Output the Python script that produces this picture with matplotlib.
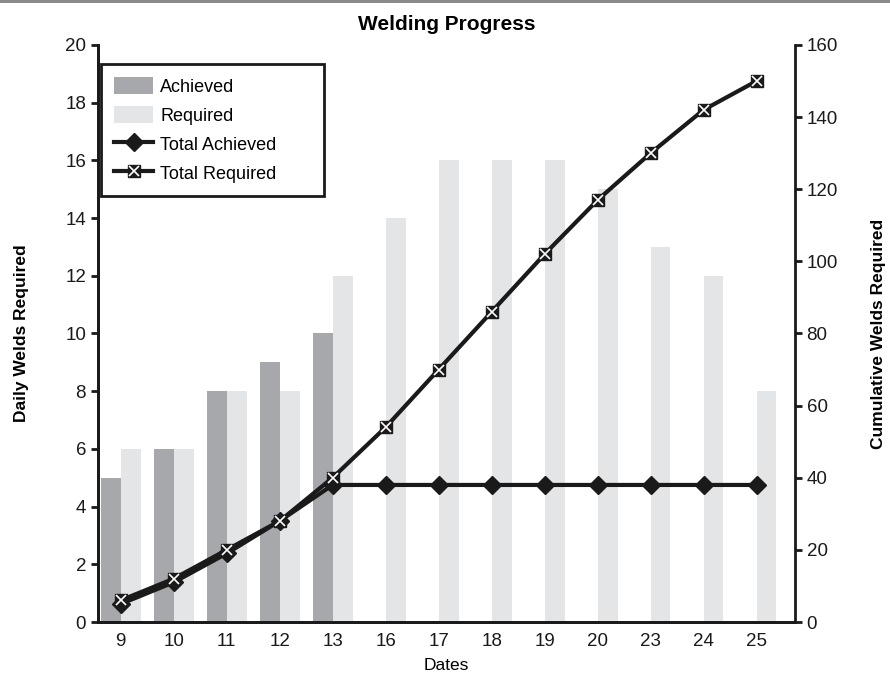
import numpy as np
import matplotlib
matplotlib.use("Agg")
import matplotlib.pyplot as plt
from matplotlib.patches import Rectangle
from matplotlib.legend_handler import HandlerTuple

plt.rcParams['font.family'] = ['Liberation Sans', 'DejaVu Sans']

# data
dates = ['9', '10', '11', '12', '13', '16', '17', '18', '19', '20', '23', '24', '25']
achieved = [5, 6, 8, 9, 10, 0, 0, 0, 0, 0, 0, 0, 0]
required = [6, 6, 8, 8, 12, 14, 16, 16, 16, 15, 13, 12, 8]
total_achieved = [5, 11, 19, 28, 38, 38, 38, 38, 38, 38, 38, 38, 38]
total_required = [6, 12, 20, 28, 40, 54, 70, 86, 102, 117, 130, 142, 150]

x = np.arange(len(dates))
w = 0.375

fig = plt.figure(figsize=(8.9, 6.87), dpi=100)
ax = fig.add_axes([0.110, 0.0946, 0.783, 0.84])
ax2 = ax.twinx()

# thin gray band at the top of the image
fig.add_artist(Rectangle((0, 0.995), 1, 0.005, transform=fig.transFigure,
                         color='#8a8a8a', lw=0))

b1 = ax.bar(x - w / 2, achieved, w, color='#a7a8ab', label='Achieved')
b2 = ax.bar(x + w / 2, required, w, color='#e4e5e7', label='Required')

l1, = ax2.plot(x, total_achieved, color='#1a1a1a', lw=3, marker='D', ms=9.5,
               label='Total Achieved')
l2, = ax2.plot(x, total_required, color='#1a1a1a', lw=3, marker='s', ms=9)
l3, = ax2.plot(x, total_required, ls='none', marker='x', ms=7.5, mew=1.2,
               color='white')

ax.set_xlim(-0.43, 12.72)
ax.set_ylim(0, 20)
ax2.set_ylim(0, 160)
ax.set_yticks(range(0, 21, 2))
ax2.set_yticks(range(0, 161, 20))
ax.set_xticks(x)
ax.set_xticklabels(dates)

for a in (ax, ax2):
    a.spines['top'].set_visible(False)
    for s in ('left', 'right', 'bottom'):
        a.spines[s].set_linewidth(2)
        a.spines[s].set_color('#1a1a1a')
    a.tick_params(labelsize=13.5, width=2, length=5, colors='#1a1a1a')
ax.tick_params(axis='x', length=0, pad=8)
ax.spines['right'].set_visible(False)

ax.set_title('Welding Progress', fontsize=15, fontweight='bold', pad=11)
ax.set_xlabel('Dates', fontsize=12.5, labelpad=6)
ax.set_ylabel('Daily Welds Required', fontsize=12.5, fontweight='bold', labelpad=26)
ax2.set_ylabel('Cumulative Welds Required', fontsize=12.5, fontweight='bold', labelpad=24)

leg = ax2.legend([b1, b2, l1, (l2, l3)],
                 ['Achieved', 'Required', 'Total Achieved', 'Total Required'],
                 handler_map={tuple: HandlerTuple(ndivide=1)},
                 loc='upper left', bbox_to_anchor=(0.005, 0.967, 0.32, 0.0),
                 mode='expand', fontsize=13, fancybox=False, framealpha=1,
                 borderpad=0.72, handlelength=2.15, handleheight=1.1,
                 handletextpad=0.4, labelspacing=0.56, borderaxespad=0)
leg.get_frame().set_edgecolor('#1a1a1a')
leg.get_frame().set_linewidth(2)

fig.savefig('out.png', dpi=100)
